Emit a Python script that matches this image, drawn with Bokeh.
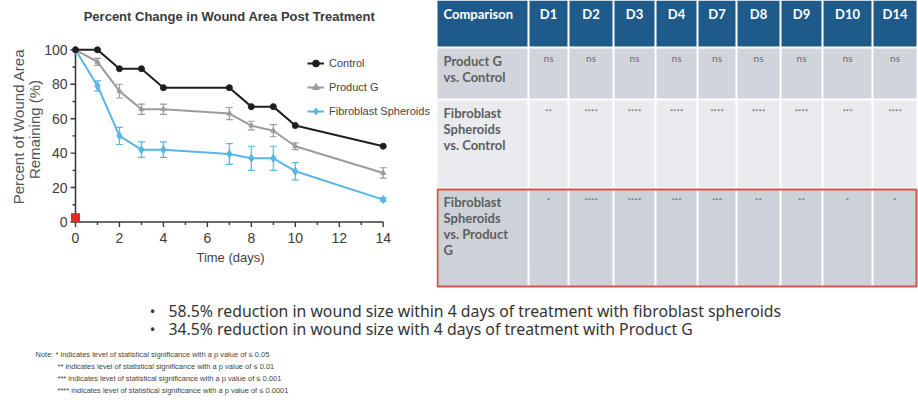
import math
from bokeh.plotting import figure
from bokeh.models import Range1d, ColumnDataSource, Whisker, TeeHead, Legend, LegendItem, Label
from bokeh.layouts import column, row
from bokeh.core.properties import value
from bokeh.embed import file_html
from bokeh.resources import INLINE

# ------------------------------------------------------------------ data
days = [0, 1, 2, 3, 4, 7, 8, 9, 10, 14]
control = [100, 100, 89, 89, 78, 78, 67, 67, 56, 44]
product_g = [100, 93, 76, 65.5, 65.5, 63, 56, 53, 44, 28.5]
product_g_err = [0, 2, 4, 3, 3, 3.5, 2.5, 3.5, 2, 3]
fibroblast = [100, 79, 50, 42, 42, 39.5, 37, 37, 29.5, 13]
fibroblast_err = [0, 3, 5, 4.5, 4.5, 6, 7, 7, 5, 1]
red_marker_day = [0]
red_marker_value = [2.5]

x_ticks = [0, 2, 4, 6, 8, 10, 12, 14]
x_minor = [1, 3, 5, 7, 9, 11, 13]
y_ticks = [0, 20, 40, 60, 80, 100]
y_minor = [10, 30, 50, 70, 90]

chart_title = "Percent Change in Wound Area Post Treatment"
x_label = "Time (days)"
y_label_lines = ["Percent of Wound Area", "Remaining (%)"]
series_names = ["Control", "Product G", "Fibroblast Spheroids"]

table_columns = ["Comparison", "D1", "D2", "D3", "D4", "D7", "D8", "D9", "D10", "D14"]
row_labels = ["Product G\nvs. Control",
              "Fibroblast\nSpheroids\nvs. Control",
              "Fibroblast\nSpheroids\nvs. Product\nG"]
sig_pg_vs_control = ["ns", "ns", "ns", "ns", "ns", "ns", "ns", "ns", "ns"]
sig_fs_vs_control = ["**", "****", "****", "****", "****", "****", "****", "***", "****"]
sig_fs_vs_pg = ["*", "****", "****", "***", "***", "**", "**", "*", "*"]

bullets = ["58.5% reduction in wound size within 4 days of treatment with fibroblast spheroids",
           "34.5% reduction in wound size with 4 days of treatment with Product G"]
notes = ["Note: * indicates level of statistical significance with a p value of \u2264 0.05",
         "** indicates level of statistical significance with a p value of \u2264 0.01",
         "*** indicates level of statistical significance with a p value of \u2264 0.001",
         "**** indicates level of statistical significance with a p value of \u2264 0.0001"]

# ------------------------------------------------------------------ styles
C_CTRL = "#1e1e1e"
C_PG = "#9b9b9b"
C_FS = "#58b6e6"
AXIS_C = "#3a3a3a"
CHART_FONT = "Liberation Sans"
TABLE_FONT = "Lato"

# pixel scale of the chart (picture pixels per unit)
PX_DAY = 21.98
PX_VAL = 1.722
X0 = 75.0     # picture x of day 0
Y0 = 221.5    # picture y of value 0
TOP_H = 290
W_CHART = 436
W_TABLE = 482


def fig(w, h, xr, yr):
    f = figure(width=w, height=h, x_range=xr, y_range=yr, output_backend="svg",
               toolbar_location=None, x_axis_location=None, y_axis_location=None,
               min_border=0, outline_line_color=None, border_fill_color="white",
               background_fill_color="white")
    f.grid.visible = False
    return f


# ------------------------------------------------------------------ chart
chart = fig(W_CHART, TOP_H,
            Range1d((0 - X0) / PX_DAY, (W_CHART - X0) / PX_DAY),
            Range1d((Y0 - TOP_H) / PX_VAL, (Y0 - 0) / PX_VAL))

# axes lines
chart.segment(x0=[x_ticks[0]], y0=[y_ticks[0]], x1=[x_ticks[-1]], y1=[y_ticks[0]],
              line_color=AXIS_C, line_width=1.6)
chart.segment(x0=[x_ticks[0]], y0=[y_ticks[0]], x1=[x_ticks[0]], y1=[y_ticks[-1]],
              line_color=AXIS_C, line_width=1.6)
# ticks
chart.segment(x0=x_ticks, y0=[0] * len(x_ticks), x1=x_ticks, y1=[-5 / PX_VAL] * len(x_ticks),
              line_color=AXIS_C, line_width=1.4)
chart.segment(x0=x_minor, y0=[0] * len(x_minor), x1=x_minor, y1=[-3 / PX_VAL] * len(x_minor),
              line_color=AXIS_C, line_width=1.4)
chart.segment(x0=[0] * len(y_ticks), y0=y_ticks, x1=[-5 / PX_DAY] * len(y_ticks), y1=y_ticks,
              line_color=AXIS_C, line_width=1.4)
chart.segment(x0=[0] * len(y_minor), y0=y_minor, x1=[-3 / PX_DAY] * len(y_minor), y1=y_minor,
              line_color=AXIS_C, line_width=1.4)
# tick labels
chart.text(x=x_ticks, y=[-11 / PX_VAL] * len(x_ticks), text=[str(t) for t in x_ticks],
           text_align="center", text_baseline="top", text_font=value(CHART_FONT),
           text_font_size="14px", text_color="#3c3c3c")
chart.text(x=[-8 / PX_DAY] * len(y_ticks), y=y_ticks, text=[str(t) for t in y_ticks],
           text_align="right", text_baseline="middle", text_font=value(CHART_FONT),
           text_font_size="14px", text_color="#3c3c3c")

# title & axis labels
chart.add_layout(Label(x=(229 - X0) / PX_DAY, y=(Y0 - 16) / PX_VAL, text=chart_title,
                       text_align="center", text_baseline="middle", text_font=CHART_FONT,
                       text_font_style="bold", text_font_size="13px", text_color="#3a3a3a"))
chart.add_layout(Label(x=(230 - X0) / PX_DAY, y=(Y0 - 257) / PX_VAL, text=x_label,
                       text_align="center", text_baseline="middle", text_font=CHART_FONT,
                       text_font_size="13px", text_color="#444444"))
chart.text(x=[(18 - X0) / PX_DAY, (34 - X0) / PX_DAY],
           y=[(Y0 - 126) / PX_VAL, (Y0 - 129) / PX_VAL],
           text=y_label_lines, angle=math.pi / 2, text_align="center", text_baseline="middle",
           text_font=value(CHART_FONT), text_font_size="15px", text_color="#555555")


def whiskers(vals, errs, color):
    idx = [i for i, e in enumerate(errs) if e > 0]
    src = ColumnDataSource(dict(x=[days[i] for i in idx],
                                upper=[vals[i] + errs[i] for i in idx],
                                lower=[vals[i] - errs[i] for i in idx]))
    w = Whisker(source=src, base="x", upper="upper", lower="lower", dimension="height",
                line_color=color, line_width=1.2,
                upper_head=TeeHead(size=7, line_color=color, line_width=1.2),
                lower_head=TeeHead(size=7, line_color=color, line_width=1.2))
    chart.add_layout(w)


whiskers(product_g, product_g_err, C_PG)
whiskers(fibroblast, fibroblast_err, C_FS)

l_fs = chart.line(days, fibroblast, line_color=C_FS, line_width=2)
s_fs = chart.scatter(days, fibroblast, marker="diamond", size=8, color=C_FS)
l_pg = chart.line(days, product_g, line_color=C_PG, line_width=2)
s_pg = chart.scatter(days, product_g, marker="triangle", size=5, color=C_PG)
l_ct = chart.line(days, control, line_color=C_CTRL, line_width=2)
s_ct = chart.scatter(days, control, marker="circle", size=6, color=C_CTRL)
chart.scatter(red_marker_day, red_marker_value, marker="square_x", size=8,
              fill_color="#e8262b", line_color="#e8262b")

legend = Legend(items=[LegendItem(label=series_names[0], renderers=[l_ct, s_ct]),
                       LegendItem(label=series_names[1], renderers=[l_pg, s_pg]),
                       LegendItem(label=series_names[2], renderers=[l_fs, s_fs])],
                location=(307, 169), orientation="vertical", glyph_width=17, glyph_height=20,
                label_height=20, spacing=4, padding=0, margin=0, label_standoff=5,
                border_line_alpha=0, background_fill_alpha=0,
                label_text_font_size="11px", label_text_color="#444444",
                label_text_font=CHART_FONT)
chart.add_layout(legend)

# ------------------------------------------------------------------ table
tbl = fig(W_TABLE, TOP_H, Range1d(436, 436 + W_TABLE), Range1d(TOP_H, 0))
col_edges = [436, 528, 568, 613, 655, 697, 736, 780, 822, 872, 917]
row_edges = [0, 47, 99, 188, 287]
row_fills = ["#1f5b8a", "#d1d5db", "#e9ebee", "#cdd1d8"]

qs = dict(left=[], right=[], top=[], bottom=[], color=[])
for r in range(4):
    for c in range(len(table_columns)):
        qs["left"].append(col_edges[c] + 1)
        qs["right"].append(col_edges[c + 1] - 1)
        qs["top"].append(row_edges[r] + (1 if r else 0))
        qs["bottom"].append(row_edges[r + 1] - 1)
        qs["color"].append(row_fills[r])
tbl.quad(left="left", right="right", top="top", bottom="bottom", fill_color="color",
         line_color=None, source=ColumnDataSource(qs))

centers = [(col_edges[i] + col_edges[i + 1]) / 2 for i in range(len(table_columns))]
tbl.text(x=[col_edges[0] + 7], y=[13], text=[table_columns[0]], text_align="left",
         text_baseline="middle", text_font=value(TABLE_FONT), text_font_style="bold",
         text_font_size="13px", text_color="white")
tbl.text(x=centers[1:], y=[13] * 9, text=table_columns[1:], text_align="center",
         text_baseline="middle", text_font=value(TABLE_FONT), text_font_style="bold",
         text_font_size="13px", text_color="white")
tbl.text(x=[col_edges[0] + 7] * 3, y=[row_edges[r] + 5 for r in range(1, 4)], text=row_labels,
         text_align="left", text_baseline="top", text_font=value(TABLE_FONT),
         text_font_style="bold", text_font_size="13px", text_color="#5e5e5e",
         text_line_height=1.02)
for r, sig in zip([1, 2, 3], [sig_pg_vs_control, sig_fs_vs_control, sig_fs_vs_pg]):
    ns = sig[0] == "ns"
    tbl.text(x=centers[1:], y=[row_edges[r] + (10 if ns else 12)] * 9, text=sig,
             text_align="center", text_baseline="middle", text_font=value(TABLE_FONT),
             text_font_size="10px" if ns else "8px", text_color="#6a6a6a")
tbl.quad(left=[437], right=[916], top=[row_edges[3] + 1], bottom=[row_edges[4] - 1],
         fill_alpha=0, line_color="#d9534f", line_width=2)

# ------------------------------------------------------------------ bottom text
BOTTOM_H = 407 - TOP_H
bottom = fig(W_CHART + W_TABLE, BOTTOM_H, Range1d(0, W_CHART + W_TABLE), Range1d(407, TOP_H))
bullet_y = [310, 328]
bottom.text(x=[152] * 2, y=bullet_y, text=["\u2022"] * 2, text_align="center",
            text_baseline="middle", text_font=value("Noto Sans"), text_font_size="15px",
            text_color="#333333")
bottom.text(x=[168] * 2, y=bullet_y, text=bullets, text_align="left",
            text_baseline="middle", text_font=value("Noto Sans"), text_font_size="15.8px",
            text_color="#333333")
bottom.text(x=[35, 57, 57, 57], y=[354, 366, 378, 390], text=notes, text_align="left",
            text_baseline="middle", text_font=value(CHART_FONT), text_font_size="7.5px",
            text_color="#444444")

layout = column(row(chart, tbl), bottom)
open("out.html", "w").write(file_html(layout, INLINE))
